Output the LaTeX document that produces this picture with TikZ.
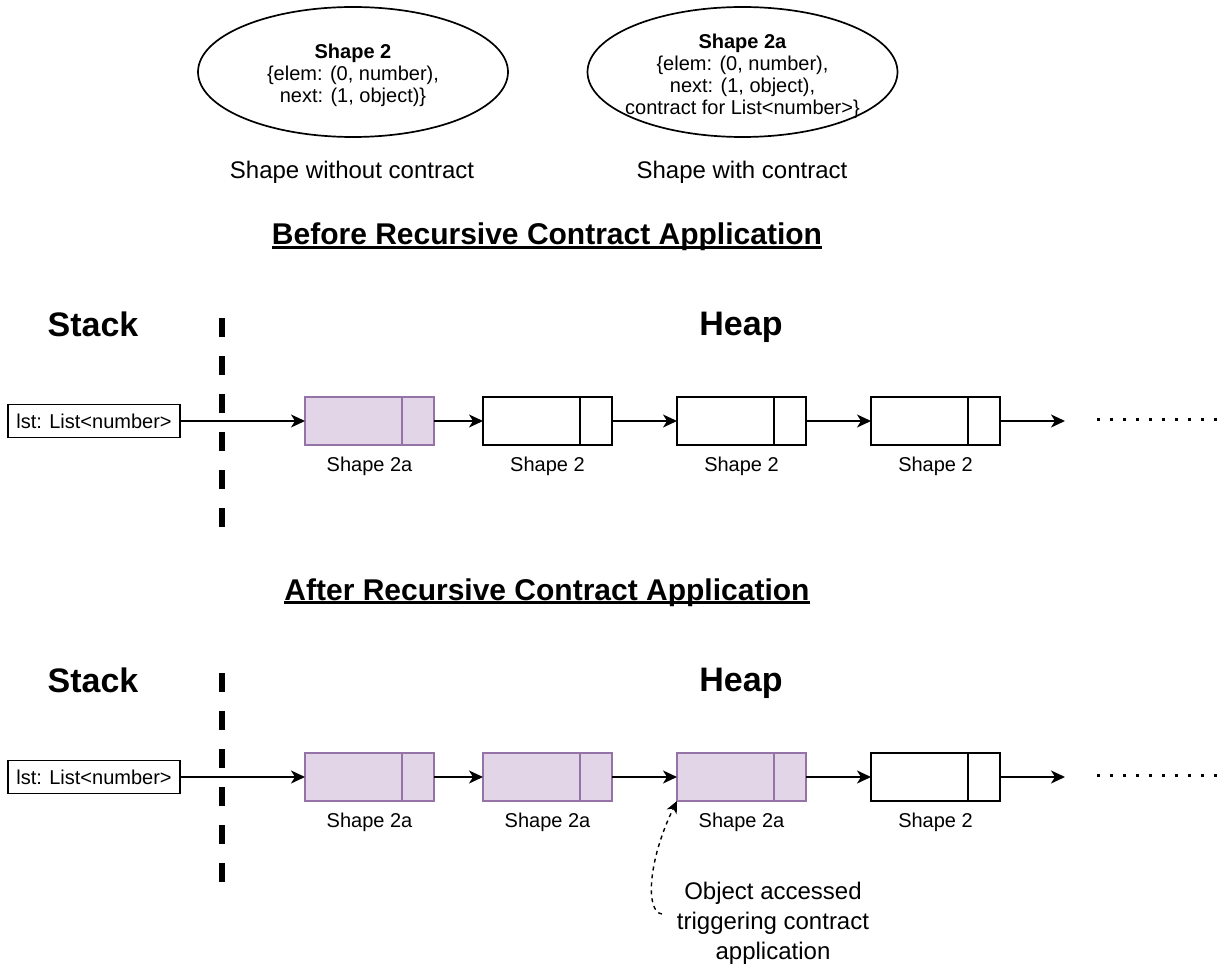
\documentclass[tikz,border=0pt]{standalone}
\usepackage{fontspec}
\setmainfont{Liberation Sans}
\usetikzlibrary{shapes.geometric,arrows.meta}

\definecolor{cellfill}{HTML}{E1D5E7}
\definecolor{cellline}{HTML}{9673A6}

\begin{document}
\begin{tikzpicture}[x=1pt,y=-1pt,
  every node/.style={inner sep=0pt, outer sep=0pt},
  shapeell/.style={ellipse, draw, line width=1.7pt, minimum width=310pt,
    minimum height=130pt},
  shapetext/.style={align=center, font=\fontsize{20}{22}\selectfont},
  caption/.style={font=\fontsize{24}{28}\selectfont},
  heading/.style={font=\bfseries\fontsize{30}{36}\selectfont, anchor=base},
  underl/.style={line width=2.5pt},
  region/.style={font=\bfseries\fontsize{34}{40}\selectfont, anchor=base},
  varbox/.style={draw, line width=1.7pt, minimum width=172pt, minimum height=33pt,
    font=\fontsize{20}{24}\selectfont},
  cell/.style={draw, line width=1.8pt, minimum width=129pt, minimum height=48pt, fill=white},
  cellon/.style={cell, fill=cellfill, draw=cellline},
  plainbar/.style={line width=1.8pt},
  purplebar/.style={line width=1.8pt, draw=cellline},
  celllabel/.style={font=\fontsize{20}{24}\selectfont},
  link/.style={line width=1.7pt, -{Stealth[length=14pt,width=13pt,inset=4pt]}},
  separator/.style={dash pattern=on 19pt off 19pt, line width=6pt},
  more/.style={dash pattern=on 3pt off 10pt, line width=3pt},
  notelink/.style={line width=1.4pt, dash pattern=on 4pt off 4pt,
    -{Stealth[length=12pt,width=11pt,inset=3.5pt]}},
  note/.style={align=center, font=\fontsize{24}{30}\selectfont},
]
\useasboundingbox (0,0) rectangle (1221,968);

% ---- legend: the two shapes
\node[shapeell] (ellPlain) at (353,72) {};
\node[shapetext] (ellPlainText) at (353,75)
  {\textbf{Shape 2}\\{\{}elem: (0, number),\\next: (1, object)\}};
\node[shapeell] (ellContract) at (742.5,72) {};
\node[shapetext] (ellContractText) at (742.5,76)
  {\textbf{Shape 2a}\\{\{}elem: (0, number),\\next: (1, object),\\contract for List<number>\}};
\node[caption] (capPlain) at (352,172) {Shape without contract};
\node[caption] (capContract) at (742,172) {Shape with contract};

% ---- before
\node[heading] (hBefore) at (547,245) {Before Recursive Contract Application};
\draw[underl] ([yshift=-2.5pt]hBefore.base west) -- ([yshift=-2.5pt]hBefore.base east);

\node[region] (stackA) at (93,337) {Stack};
\node[region] (heapA) at (741,336) {Heap};
\coordinate (sepAtop) at (222,318);
\coordinate (sepAbot) at (222,532);
\draw[separator] (sepAtop) -- (sepAbot);

\node[varbox] (lstA) at (94,421) {lst: List<number>};
\node[cellon] (a1) at (369.5,421) {};
\node[cell] (a2) at (547.5,421) {};
\node[cell] (a3) at (741.5,421) {};
\node[cell] (a4) at (935.5,421) {};
\draw[purplebar] ([xshift=97pt]a1.north west) -- ([xshift=97pt]a1.south west);
\draw[plainbar] ([xshift=97pt]a2.north west) -- ([xshift=97pt]a2.south west);
\draw[plainbar] ([xshift=97pt]a3.north west) -- ([xshift=97pt]a3.south west);
\draw[plainbar] ([xshift=97pt]a4.north west) -- ([xshift=97pt]a4.south west);
\node[celllabel] (a1l) at (369.5,466) {Shape 2a};
\node[celllabel] (a2l) at (547.5,466) {Shape 2};
\node[celllabel] (a3l) at (741.5,466) {Shape 2};
\node[celllabel] (a4l) at (935.5,466) {Shape 2};
\coordinate (aEnd) at (1065,421);
\draw[link] (lstA) -- (a1);
\draw[link] (a1) -- (a2);
\draw[link] (a2) -- (a3);
\draw[link] (a3) -- (a4);
\draw[link] (a4) -- (aEnd);
\coordinate (aDotsL) at (1097,419);
\coordinate (aDotsR) at (1218,419);
\draw[more] (aDotsL) -- (aDotsR);

% ---- after
\node[heading] (hAfter) at (547,600) {After Recursive Contract Application};
\draw[underl] ([yshift=-2.5pt]hAfter.base west) -- ([yshift=-2.5pt]hAfter.base east);

\node[region] (stackB) at (93,692) {Stack};
\node[region] (heapB) at (741,691) {Heap};
\coordinate (sepBtop) at (222,673);
\coordinate (sepBbot) at (222,887);
\draw[separator] (sepBtop) -- (sepBbot);

\node[varbox] (lstB) at (94,777) {lst: List<number>};
\node[cellon] (b1) at (369.5,777) {};
\node[cellon] (b2) at (547.5,777) {};
\node[cellon] (b3) at (741.5,777) {};
\node[cell] (b4) at (935.5,777) {};
\draw[purplebar] ([xshift=97pt]b1.north west) -- ([xshift=97pt]b1.south west);
\draw[purplebar] ([xshift=97pt]b2.north west) -- ([xshift=97pt]b2.south west);
\draw[purplebar] ([xshift=97pt]b3.north west) -- ([xshift=97pt]b3.south west);
\draw[plainbar] ([xshift=97pt]b4.north west) -- ([xshift=97pt]b4.south west);
\node[celllabel] (b1l) at (369.5,822) {Shape 2a};
\node[celllabel] (b2l) at (547.5,822) {Shape 2a};
\node[celllabel] (b3l) at (741.5,822) {Shape 2a};
\node[celllabel] (b4l) at (935.5,822) {Shape 2};
\coordinate (bEnd) at (1065,777);
\draw[link] (lstB) -- (b1);
\draw[link] (b1) -- (b2);
\draw[link] (b2) -- (b3);
\draw[link] (b3) -- (b4);
\draw[link] (b4) -- (bEnd);
\coordinate (bDotsL) at (1097,775);
\coordinate (bDotsR) at (1218,775);
\draw[more] (bDotsL) -- (bDotsR);

% ---- annotation of the accessed object
\node[note] (noteText) at (773,923) {Object accessed\\triggering contract\\application};
\coordinate (noteTail) at (662,914);
\draw[notelink] (noteTail) .. controls (645,912) and (648,860) .. (b3.south west);
\end{tikzpicture}
\end{document}
